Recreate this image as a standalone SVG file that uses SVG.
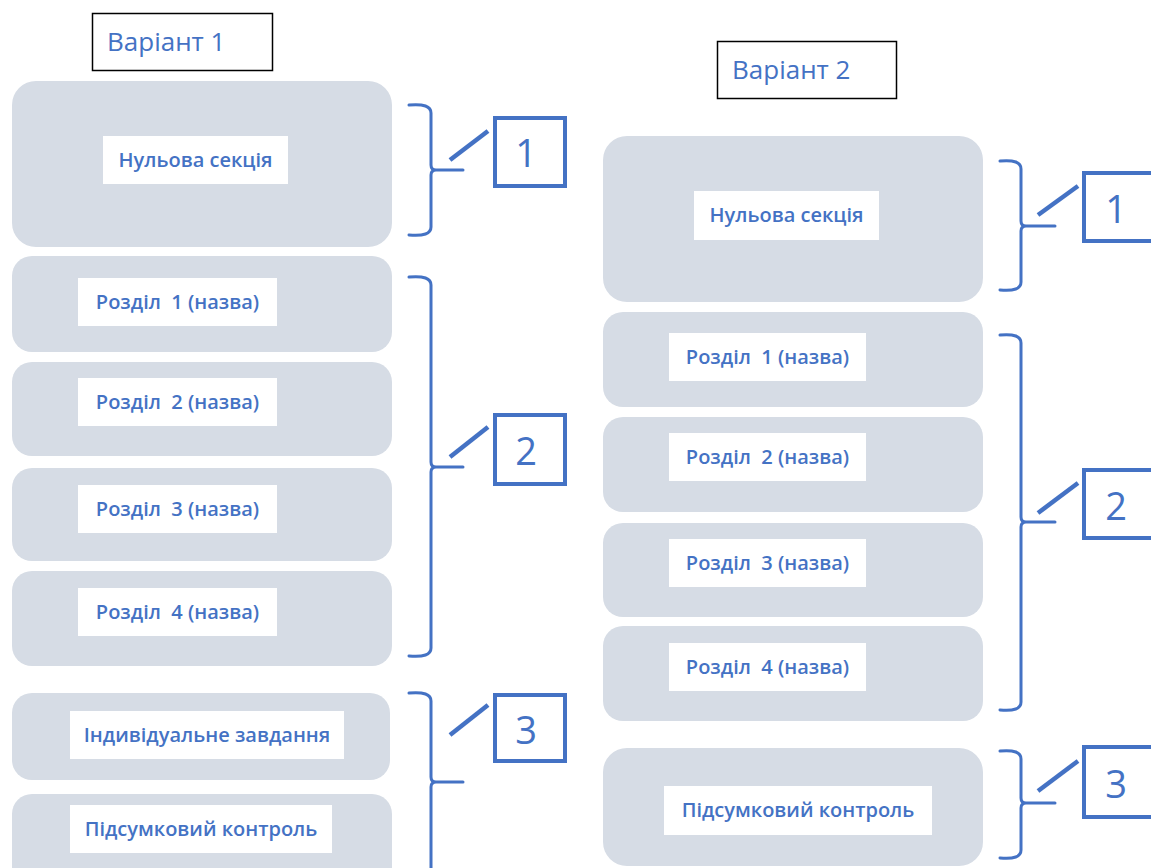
<svg xmlns="http://www.w3.org/2000/svg" width="1151" height="868" viewBox="0 0 1151 868">
<style>
.node{fill:#d6dce5}
.lab{fill:#ffffff}
.t{font-family:"Open Sans","Liberation Sans",sans-serif;font-size:20px;font-weight:600;fill:#4472c4;text-anchor:middle;dominant-baseline:central;white-space:pre}
.title{font-family:"Open Sans","Liberation Sans",sans-serif;font-size:26px;fill:#4472c4;dominant-baseline:central}
.tbox{fill:#ffffff;stroke:#000000;stroke-width:1.5}
.br{fill:none;stroke:#4472c4;stroke-width:3;stroke-linecap:round}
.dg{fill:none;stroke:#4472c4;stroke-width:4.5}
.nbox{fill:#ffffff;stroke:#4472c4;stroke-width:4}
.num{font-family:"Open Sans","Liberation Sans",sans-serif;font-size:38px;fill:#4472c4;text-anchor:middle;dominant-baseline:central}
</style>
<rect width="1151" height="868" fill="#ffffff"/>

<g id="title1"><rect class="tbox" x="92.5" y="13.5" width="180" height="57"/><text class="title" x="107" y="41">Варіант 1</text></g>
<g id="title2"><rect class="tbox" x="717.5" y="41.5" width="179" height="57"/><text class="title" x="732" y="69">Варіант 2</text></g>

<g id="v1-nul"><rect class="node" x="12" y="81" width="380" height="166" rx="24"/><rect class="lab" x="103" y="136" width="185" height="48"/><text class="t" x="195.5" y="159">Нульова секція</text></g>
<g id="v1-r1"><rect class="node" x="12" y="256" width="380" height="96" rx="20"/><rect class="lab" x="78" y="278" width="199" height="48"/><text class="t" x="177.5" y="301">Розділ  1 (назва)</text></g>
<g id="v1-r2"><rect class="node" x="12" y="362" width="380" height="94" rx="20"/><rect class="lab" x="78" y="378" width="199" height="48"/><text class="t" x="177.5" y="401">Розділ  2 (назва)</text></g>
<g id="v1-r3"><rect class="node" x="12" y="468" width="380" height="93" rx="20"/><rect class="lab" x="78" y="485" width="199" height="48"/><text class="t" x="177.5" y="508">Розділ  3 (назва)</text></g>
<g id="v1-r4"><rect class="node" x="12" y="571" width="380" height="95" rx="20"/><rect class="lab" x="78" y="588" width="199" height="48"/><text class="t" x="177.5" y="611">Розділ  4 (назва)</text></g>
<g id="v1-ind"><rect class="node" x="12" y="693" width="378" height="87" rx="20"/><rect class="lab" x="70" y="711" width="274" height="48"/><text class="t" x="207" y="734">Індивідуальне завдання</text></g>
<g id="v1-pid"><rect class="node" x="12" y="794" width="380" height="94" rx="20"/><rect class="lab" x="70" y="805" width="262" height="48"/><text class="t" x="201" y="828">Підсумковий контроль</text></g>

<g id="v2-nul"><rect class="node" x="603" y="136" width="380" height="166" rx="24"/><rect class="lab" x="694" y="191" width="185" height="49"/><text class="t" x="786.5" y="214">Нульова секція</text></g>
<g id="v2-r1"><rect class="node" x="603" y="312" width="380" height="95" rx="20"/><rect class="lab" x="669" y="333" width="197" height="48"/><text class="t" x="767.5" y="356">Розділ  1 (назва)</text></g>
<g id="v2-r2"><rect class="node" x="603" y="417" width="380" height="95" rx="20"/><rect class="lab" x="669" y="433" width="197" height="48"/><text class="t" x="767.5" y="456">Розділ  2 (назва)</text></g>
<g id="v2-r3"><rect class="node" x="603" y="523" width="380" height="94" rx="20"/><rect class="lab" x="669" y="539" width="197" height="48"/><text class="t" x="767.5" y="562">Розділ  3 (назва)</text></g>
<g id="v2-r4"><rect class="node" x="603" y="626" width="380" height="95" rx="20"/><rect class="lab" x="669" y="643" width="197" height="48"/><text class="t" x="767.5" y="666">Розділ  4 (назва)</text></g>
<g id="v2-pid"><rect class="node" x="603" y="748" width="380" height="118" rx="24"/><rect class="lab" x="664" y="786" width="268" height="49"/><text class="t" x="798" y="809">Підсумковий контроль</text></g>

<g id="connectors">
<path class="br" d="M409,105 Q431,103 431,113 V165 Q431,170 436,170 Q431,170 431,175 V227 Q431,237 409,235 M436,170 H463"/>
<path class="br" d="M409,277 Q431,275 431,285 V462 Q431,467 436,467 Q431,467 431,472 V648 Q431,658 409,656 M436,467 H463"/>
<path class="br" d="M409,693 Q431,691 431,701 V777 Q431,782 436,782 Q431,782 431,787 V870 M436,782 H463"/>
<line class="dg" x1="450" y1="160" x2="488" y2="131"/>
<line class="dg" x1="450" y1="457" x2="488" y2="427"/>
<line class="dg" x1="450" y1="735" x2="488" y2="705"/>
<path class="br" d="M1000,161 Q1021,159 1021,169 V221 Q1021,226 1026,226 Q1021,226 1021,231 V282 Q1021,292 1000,290 M1026,226 H1055"/>
<path class="br" d="M1000,335 Q1021,333 1021,343 V517 Q1021,522 1026,522 Q1021,522 1021,527 V702 Q1021,712 1000,710 M1026,522 H1055"/>
<path class="br" d="M1000,751 Q1021,749 1021,759 V798 Q1021,803 1026,803 Q1021,803 1021,808 V850 Q1021,860 1000,858 M1026,803 H1055"/>
<line class="dg" x1="1038" y1="215" x2="1078" y2="186"/>
<line class="dg" x1="1038" y1="513" x2="1078" y2="483"/>
<line class="dg" x1="1038" y1="791" x2="1078" y2="761"/>
</g>

<g id="num1-1"><rect class="nbox" x="495" y="118" width="70" height="68"/><text class="num" x="526" y="152">1</text></g>
<g id="num1-2"><rect class="nbox" x="495" y="415" width="70" height="69"/><text class="num" x="526" y="450">2</text></g>
<g id="num1-3"><rect class="nbox" x="495" y="695" width="70" height="66"/><text class="num" x="526" y="729">3</text></g>
<g id="num2-1"><rect class="nbox" x="1084" y="173" width="90" height="68"/><text class="num" x="1116" y="208">1</text></g>
<g id="num2-2"><rect class="nbox" x="1084" y="470" width="90" height="68"/><text class="num" x="1116" y="505">2</text></g>
<g id="num2-3"><rect class="nbox" x="1084" y="747" width="90" height="70"/><text class="num" x="1116" y="783">3</text></g>
</svg>
